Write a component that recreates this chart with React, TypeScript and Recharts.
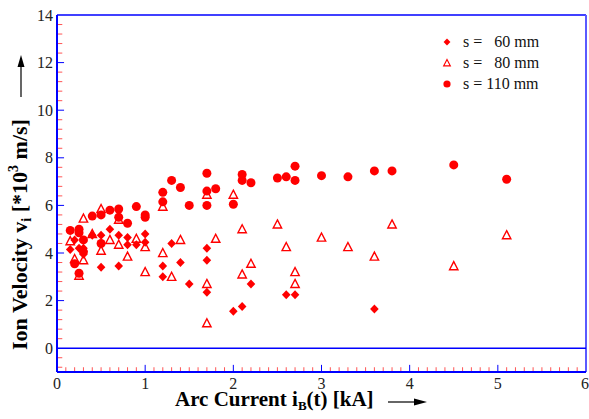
import React from 'react';
import { ScatterChart, Scatter, XAxis, YAxis, ReferenceLine } from 'recharts';

// arc current [kA] / ion velocity [*10^3 m/s] per electrode spacing
const current60 = [0.15, 0.2, 0.25, 0.3, 0.3, 0.4, 0.5, 0.5, 0.6, 0.7, 0.7, 0.8, 0.8, 0.9, 1.0, 1.0, 1.2, 1.2, 1.3, 1.4, 1.5, 1.7, 1.7, 1.7, 2.0, 2.1, 2.2, 2.6, 2.7, 3.6];
const velocity60 = [4.15, 4.55, 4.2, 4.2, 3.95, 4.75, 4.75, 3.4, 5.0, 4.75, 3.45, 4.65, 4.35, 4.35, 4.8, 4.45, 3.45, 3.0, 4.4, 3.6, 2.7, 4.2, 3.7, 2.35, 1.55, 1.75, 2.7, 2.25, 2.25, 1.65];

const current80 = [0.15, 0.2, 0.25, 0.3, 0.3, 0.4, 0.5, 0.5, 0.6, 0.7, 0.7, 0.8, 0.9, 1.0, 1.0, 1.2, 1.2, 1.3, 1.4, 1.7, 1.7, 1.7, 1.8, 2.0, 2.1, 2.1, 2.2, 2.5, 2.6, 2.7, 2.7, 3.0, 3.3, 3.6, 3.8, 4.5, 5.1];
const velocity80 = [4.5, 3.75, 3.05, 5.45, 3.7, 4.8, 5.85, 4.1, 4.55, 5.4, 4.35, 3.85, 4.6, 4.25, 3.2, 5.95, 4.0, 3.0, 4.55, 6.45, 2.7, 1.05, 4.6, 6.45, 5.0, 3.1, 3.55, 5.2, 4.25, 3.2, 2.7, 4.65, 4.25, 3.85, 5.2, 3.45, 4.75];

const current110 = [0.15, 0.2, 0.25, 0.25, 0.25, 0.3, 0.3, 0.4, 0.5, 0.5, 0.6, 0.7, 0.7, 0.8, 0.9, 1.0, 1.0, 1.2, 1.2, 1.3, 1.4, 1.5, 1.7, 1.7, 1.7, 1.8, 2.0, 2.1, 2.1, 2.2, 2.5, 2.6, 2.7, 2.7, 3.0, 3.3, 3.6, 3.8, 4.5, 5.1];
const velocity110 = [4.95, 3.55, 5.0, 4.85, 3.15, 4.55, 4.05, 5.55, 5.6, 4.4, 5.8, 5.85, 5.5, 5.25, 5.95, 5.6, 5.5, 6.55, 6.15, 7.05, 6.75, 6.0, 7.35, 6.6, 6.0, 6.7, 6.05, 7.3, 7.05, 6.95, 7.15, 7.2, 7.65, 7.05, 7.25, 7.2, 7.45, 7.45, 7.7, 7.1];

const xTicks = [0, 1, 2, 3, 4, 5, 6];
const yTicks = [0, 2, 4, 6, 8, 10, 12, 14];
const legendLabels = ['s =   60 mm', 's =   80 mm', 's = 110 mm'];

const toPoints = (xs: number[], ys: number[]) => xs.map((x, i) => ({ x, y: ys[i] }));

const RED = '#ff0000';
const BLUE = '#0000ff';
const SERIF = '"Liberation Serif", "Times New Roman", serif';

const xMinor = Array.from({ length: 61 }, (_, i) => i / 10).filter((v) => Math.round(v * 10) % 10 !== 0);
const yMinor = Array.from({ length: 38 }, (_, i) => Math.round((-0.8 + i * 0.4) * 10) / 10).filter(
  (v) => Math.round(v * 10) % 20 !== 0
);

const Diamond = ({ cx, cy }: any) => (
  <polygon points={`${cx},${cy - 4.5} ${cx + 4.3},${cy} ${cx},${cy + 4.5} ${cx - 4.3},${cy}`} fill={RED} />
);
const Triangle = ({ cx, cy }: any) => (
  <polygon points={`${cx},${cy - 4.5} ${cx + 4.2},${cy + 3.6} ${cx - 4.2},${cy + 3.6}`} fill="none" stroke={RED} strokeWidth={1.4} />
);
const Dot = ({ cx, cy }: any) => <circle cx={cx} cy={cy} r={4.5} fill={RED} />;

const YTitle = () => (
  <g>
    <text transform="translate(27,350) rotate(-90)" fontFamily={SERIF} fontWeight="bold" fontSize={22} fill="#000">
      Ion Velocity v<tspan fontSize={14} dy={4}>i</tspan>
      <tspan dy={-4}> [*10</tspan>
      <tspan fontSize={14} dy={-9}>3</tspan>
      <tspan dy={9}> m/s]</tspan>
    </text>
    <line x1={21} y1={97} x2={21} y2={64} stroke="#000" strokeWidth={1.2} />
    <polygon points="21,55 17.5,67 24.5,67" fill="#000" />
  </g>
);

const XTitle = () => (
  <g>
    <text x={175} y={406} fontFamily={SERIF} fontWeight="bold" fontSize={21} fill="#000">
      Arc Current i<tspan fontSize={13} dy={4}>B</tspan>
      <tspan dy={-4}>(t) [kA]</tspan>
    </text>
    <line x1={388} y1={402} x2={416} y2={402} stroke="#000" strokeWidth={1.2} />
    <polygon points="427,402 414,398.5 414,405.5" fill="#000" />
  </g>
);

const legendIcons = [Diamond, Triangle, Dot];

const LegendBox = () => (
  <div style={{ position: 'absolute', left: 441, top: 31, fontFamily: SERIF, fontSize: 16, color: '#111' }}>
    {legendLabels.map((label, i) => {
      const Icon = legendIcons[i];
      return (
        <div key={label} style={{ display: 'flex', alignItems: 'center', height: 21 }}>
          <svg width={12} height={12} style={{ overflow: 'visible' }}>
            <g transform="scale(0.8) translate(1.5,1.5)">
              <Icon cx={6} cy={6} />
            </g>
          </svg>
          <span style={{ marginLeft: 10, whiteSpace: 'pre' }}>{label}</span>
        </div>
      );
    })}
  </div>
);

export default function App() {
  return (
    <div style={{ position: 'absolute', left: 0, top: 0, width: 589, height: 419, background: '#fff' }}>
      <ScatterChart width={589} height={419} margin={{ top: 15, right: 3, bottom: 17, left: 0 }}>
        <XAxis
          type="number"
          dataKey="x"
          domain={[0, 6]}
          ticks={xTicks}
          height={30}
          tickSize={0}
          tickMargin={6}
          tickLine={false}
          axisLine={{ stroke: BLUE, strokeWidth: 2 }}
          tick={{ fontSize: 16, fontFamily: SERIF, fill: '#222' }}
          label={{ content: () => <XTitle /> }}
        />
        <YAxis
          type="number"
          dataKey="y"
          domain={[-1, 14]}
          ticks={yTicks}
          width={57}
          tickSize={0}
          tickMargin={4}
          tickLine={false}
          axisLine={{ stroke: BLUE, strokeWidth: 2 }}
          tick={{ fontSize: 16, fontFamily: SERIF, fill: '#222' }}
          label={{ content: () => <YTitle /> }}
        />
        <ReferenceLine y={14} stroke={BLUE} strokeWidth={1.5} />
        <ReferenceLine x={6} stroke="#5a5aff" strokeWidth={2} />
        <ReferenceLine y={0} stroke={BLUE} strokeWidth={1.5} />
        {xMinor.map((v) => (
          <ReferenceLine key={'xm' + v} segment={[{ x: v, y: -1 }, { x: v, y: -0.8 }]} stroke="#ff5555" />
        ))}
        {xTicks.slice(1, -1).map((v) => (
          <ReferenceLine key={'xM' + v} segment={[{ x: v, y: -1 }, { x: v, y: -0.7 }]} stroke={BLUE} />
        ))}
        {yMinor.map((v) => (
          <ReferenceLine key={'ym' + v} segment={[{ x: 0, y: v }, { x: 0.06, y: v }]} stroke="#ff5555" />
        ))}
        {yTicks.slice(1, -1).map((v) => (
          <ReferenceLine key={'yM' + v} segment={[{ x: 0, y: v }, { x: 0.08, y: v }]} stroke={BLUE} />
        ))}
        <Scatter name="s = 60 mm" data={toPoints(current60, velocity60)} shape={Diamond} isAnimationActive={false} />
        <Scatter name="s = 80 mm" data={toPoints(current80, velocity80)} shape={Triangle} isAnimationActive={false} />
        <Scatter name="s = 110 mm" data={toPoints(current110, velocity110)} shape={Dot} isAnimationActive={false} />
      </ScatterChart>
      <LegendBox />
    </div>
  );
}
